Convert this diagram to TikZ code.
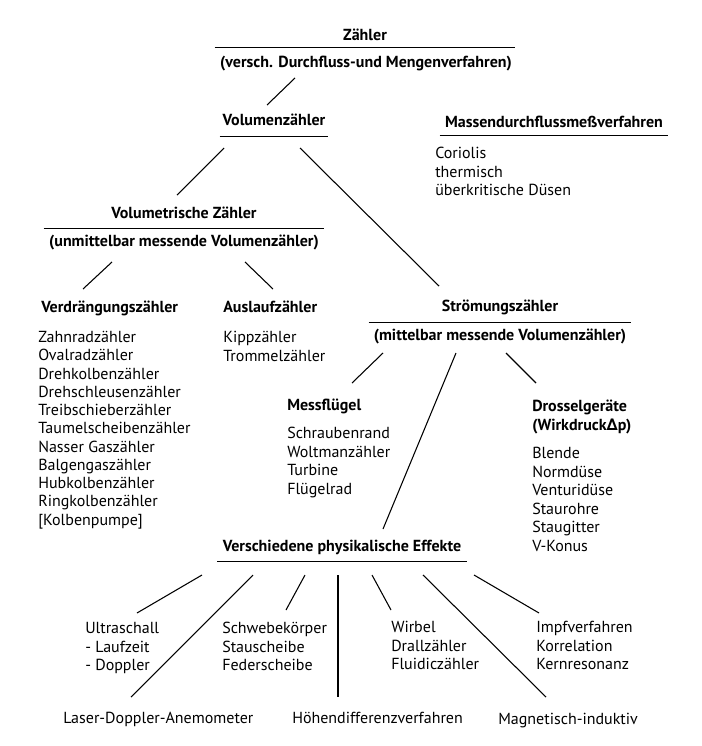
\documentclass[tikz,border=0pt]{standalone}
\usepackage{fontspec}
\setmainfont{PT Sans}
\newfontfamily\deltafont{DejaVu Sans}
\usetikzlibrary{positioning}
\newcommand\txtsize{\fontsize{12}{13.9}\selectfont}

\begin{document}
\begin{tikzpicture}[%
    x=0.75pt, y=-0.75pt,        % one unit is one pixel of the sketch
    every node/.style={font=\txtsize},
    ]
\tikzset{
  head/.style={font=\txtsize\bfseries, inner sep=0pt, text height=9.5pt, text depth=2.5pt},
  entry/.style={inner sep=0pt, text height=9.5pt, text depth=2.5pt, anchor=west},
  list/.style={align=left, anchor=north west, inner sep=0pt},
  link/.style={line width=0.8pt},
  rule/.style={line width=1pt},
}
\useasboundingbox (0,0) rectangle (701,746);

% headings
\node [head, minimum width=225pt] (zl) at (365,36) {Zähler};
\node [head] (zv) at (366,63) {(versch. Durchfluss-und Mengenverfahren)};
\node [head, minimum width=81pt] (vz) at (274,121) {Volumenzähler};
\node [head, minimum width=171pt] (md) at (554,123) {Massendurchflussmeßverfahren};
\node [head, minimum width=210pt] (vt) at (184,214) {Volumetrische Zähler};
\node [head] (vu) at (184,242) {(unmittelbar messende Volumenzähler)};
\node [head, anchor=west] (vd) at (41,308) {Verdrängungszähler};
\node [head, anchor=west] (al) at (223,308) {Auslaufzähler};
\node [head, minimum width=196.5pt] (sz) at (500,307) {Strömungszähler};
\node [head] (su) at (500,336) {(mittelbar messende Volumenzähler)};
\node [head, anchor=west] (mf) at (287,406) {Messflügel};
\node [list, font=\txtsize\bfseries] (dg) at (532,400) {Drosselgeräte\\(Wirkdruck{\deltafont\bfseries∆}p)};
\node [head, minimum width=186.75pt] (ph) at (342,547) {Verschiedene physikalische Effekte};

% lists
\node [list] (mdl) at (435,147) {Coriolis\\thermisch\\überkritische Düsen};
\node [list, font=\fontsize{12}{13.7}\selectfont] (vdl) at (38,331) {Zahnradzähler\\Ovalradzähler\\Drehkolbenzähler\\Drehschleusenzähler\\Treibschieberzähler\\Taumelscheibenzähler\\Nasser Gaszähler\\Balgengaszähler\\Hubkolbenzähler\\Ringkolbenzähler\\{[Kolbenpumpe]}};
\node [list] (all) at (223,331) {Kippzähler\\Trommelzähler};
\node [list] (mfl) at (287,427) {Schraubenrand\\Woltmanzähler\\Turbine\\Flügelrad};
\node [list] (dgl) at (532,447) {Blende\\Normdüse\\Venturidüse\\Staurohre\\Staugitter\\V-Konus};
\node [list] (us) at (85,622) {Ultraschall\\- Laufzeit\\- Doppler};
\node [list] (sw) at (222,622) {Schwebekörper\\Stauscheibe\\Federscheibe};
\node [list] (wb) at (391,621) {Wirbel\\Drallzähler\\Fluidiczähler};
\node [list] (im) at (536,621) {Impfverfahren\\Korrelation\\Kernresonanz};
\node [entry] (ld) at (63,719) {Laser-Doppler-Anemometer};
\node [entry] (hd) at (292,719) {Höhendifferenzverfahren};
\node [entry] (mi) at (498,720) {Magnetisch-induktiv};

% underlines
\draw [rule] ([yshift=-2.25pt]zl.south west) -- ([yshift=-2.25pt]zl.south east);
\draw [rule] ([yshift=-5.25pt]vz.south west) -- ([yshift=-5.25pt]vz.south east);
\draw [rule] ([yshift=-3pt]md.south west) -- ([yshift=-3pt]md.south east);
\draw [rule] ([yshift=-4.5pt]vt.south west) -- ([yshift=-4.5pt]vt.south east);
\draw [rule] ([yshift=-5.25pt]sz.south west) -- ([yshift=-5.25pt]sz.south east);
\draw [rule] ([yshift=-4.5pt]ph.south west) -- ([yshift=-4.5pt]ph.south east);

% line ends
\coordinate (zv-vz) at (295,78);   \coordinate (vz-in) at (267,105);
\coordinate (vz-vt) at (224,148);  \coordinate (vt-in) at (177,195);
\coordinate (vz-sz) at (300,148);  \coordinate (sz-in) at (439,286);
\coordinate (vu-vd) at (112,262);  \coordinate (vd-in) at (83,289);
\coordinate (vu-al) at (245,262);  \coordinate (al-in) at (273,289);
\coordinate (su-mf) at (383,353);  \coordinate (mf-in) at (352,383);
\coordinate (su-ph) at (456,353);  \coordinate (ph-in) at (383,529);
\coordinate (su-dg) at (506,353);  \coordinate (dg-in) at (536,383);
\coordinate (ph-us) at (202,575);  \coordinate (us-in) at (137,613);
\coordinate (ph-ld) at (253,575);  \coordinate (ld-in) at (131,697);
\coordinate (ph-sw) at (305,575);  \coordinate (sw-in) at (286,610);
\coordinate (ph-hd) at (338,575);  \coordinate (hd-in) at (338,697);
\coordinate (ph-wb) at (372,575);  \coordinate (wb-in) at (391,610);
\coordinate (ph-mi) at (423,575);  \coordinate (mi-in) at (546,697);
\coordinate (ph-im) at (474,575);  \coordinate (im-in) at (539,613);

%connect
\draw [link] (zv-vz) -- (vz-in);
\draw [link] (vz-vt) -- (vt-in);
\draw [link] (vz-sz) -- (sz-in);
\draw [link] (vu-vd) -- (vd-in);
\draw [link] (vu-al) -- (al-in);
\draw [link] (su-mf) -- (mf-in);
\draw [link] (su-ph) -- (ph-in);
\draw [link] (su-dg) -- (dg-in);
\draw [link] (ph-us) -- (us-in);
\draw [link] (ph-ld) -- (ld-in);
\draw [link] (ph-sw) -- (sw-in);
\draw [link] (ph-hd) -- (hd-in);
\draw [link] (ph-wb) -- (wb-in);
\draw [link] (ph-mi) -- (mi-in);
\draw [link] (ph-im) -- (im-in);

\end{tikzpicture}
\end{document}
